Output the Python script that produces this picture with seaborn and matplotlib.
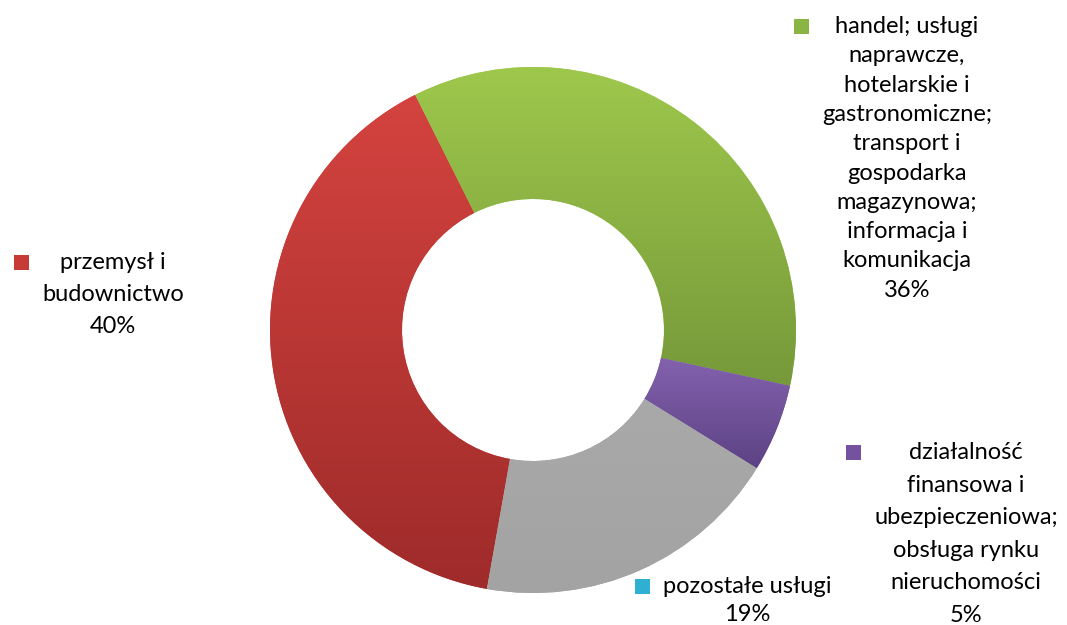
import numpy as np
import matplotlib
matplotlib.use("Agg")
import matplotlib.pyplot as plt
import seaborn as sns
from matplotlib.colors import to_rgb
from matplotlib.patches import Rectangle

# ---- data ----
categories = [
    "przemysł i\nbudownictwo",
    "handel; usługi\nnaprawcze,\nhotelarskie i\ngastronomiczne;\ntransport i\ngospodarka\nmagazynowa;\ninformacja i\nkomunikacja",
    "działalność\nfinansowa i\nubezpieczeniowa;\nobsługa rynku\nnieruchomości",
    "pozostałe usługi",
]
shares = [39.8, 35.8, 5.4, 19.0]
pct_labels = ["40%", "36%", "5%", "19%"]

# ---- style ----
top_colors = ["#d4433f", "#9ec84c", "#8462ae", "#a9a9a9"]
bottom_colors = ["#9e2b2a", "#76993a", "#5c4284", "#a3a3a3"]
key_colors = ["#c83a36", "#8ab444", "#7452a0", "#2fb0d2"]

# label layout: (center x px, first baseline y px, line spacing px)
label_layout = [(113, 269, 32), (907, 33, 29.3), (966, 459, 32.6), (747, 593, 28)]

W, H = 1067, 625
sns.set_theme(style="white")
plt.rcParams["font.family"] = ["Lato", "DejaVu Sans"]

fig = plt.figure(figsize=(W / 100, H / 100), dpi=100)
ax = fig.add_axes([0, 0, 1, 1])
ax.set_xlim(0, W)
ax.set_ylim(0, H)
ax.axis("off")

cx, cy, R = 533, H - 330, 263
wedges, _ = ax.pie(
    shares,
    colors=top_colors,
    startangle=90 - 190.1,
    counterclock=False,
    radius=R,
    center=(cx, cy),
    wedgeprops=dict(width=R - 131, edgecolor="none", linewidth=0),
    frame=True,
)
ax.axis("off")

# vertical gradient fill on each slice
for w, ct, cb in zip(wedges, top_colors, bottom_colors):
    ext = w.get_path().get_extents()
    t = np.linspace(0, 1, 256)[:, None, None]
    grad = (1 - t) * np.array(to_rgb(ct))[None, None, :] + t * np.array(to_rgb(cb))[None, None, :]
    im = ax.imshow(grad, extent=(ext.x0, ext.x1, ext.y0, ext.y1), origin="upper",
                   aspect="auto", zorder=2, interpolation="bilinear")
    im.set_clip_path(w)

ax.set_xlim(0, W)
ax.set_ylim(0, H)
ax.set_aspect("auto")

# labels
fs = 17
fig.canvas.draw()
renderer = fig.canvas.get_renderer()
for cat, pct, kc, (lx, by, sp) in zip(categories, pct_labels, key_colors, label_layout):
    lines = cat.split("\n") + [pct]
    txts = []
    for i, line in enumerate(lines):
        txts.append(ax.text(lx, H - (by + i * sp), line, ha="center", va="baseline",
                            fontsize=fs, color="#000000", zorder=5))
    x0 = min(t.get_window_extent(renderer).x0 for t in txts)
    ax.add_patch(Rectangle((x0 - 13 - 15, H - (by - 7) - 7.5), 15, 15,
                           facecolor=kc, edgecolor="none", zorder=5))

fig.savefig("out.png", dpi=100)
